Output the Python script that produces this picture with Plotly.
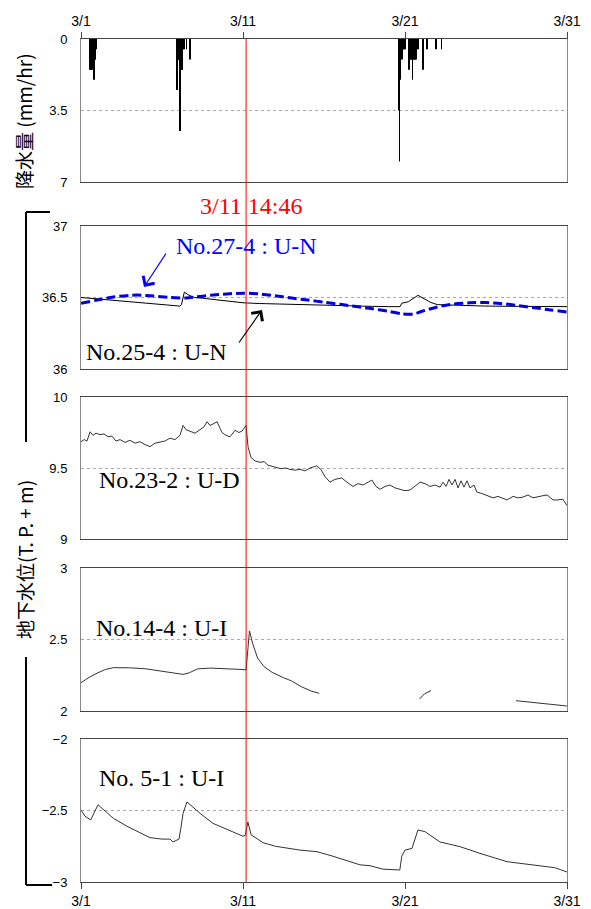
import plotly.graph_objects as go

# ---------------- data ----------------
tick_days = [0, 10, 20, 30]
tick_text = ['3/1', '3/11', '3/21', '3/31']
quake_day = 10.19  # 3/11 14:46 as drawn

# hourly rainfall (mm/hr), day offset from 3/1 00:00
rain_day = [0.5625, 0.604, 0.646, 0.6875, 0.729, 0.771, 0.8125, 0.854, 0.896, 0.9375,
            5.9375, 5.979, 6.021, 6.0625, 6.104, 6.146, 6.1875, 6.229, 6.271, 6.3125, 6.354, 6.521, 6.729,
            19.625, 19.667, 19.708, 19.75, 19.79, 19.833, 19.875, 19.917, 19.958, 20.0,
            20.25, 20.333, 20.375, 20.417, 20.458, 20.5, 20.542, 20.583, 20.625, 20.667,
            20.75, 20.833, 21.125, 21.375, 21.917, 22.25]
rain_mm = [1.5, 1.5, 1.5, 1.5, 1.0, 1.0, 2.0, 1.0, 1.0, 0.5,
           2.5, 1.0, 1.0, 1.0, 4.5, 1.5, 1.5, 1.5, 1.5, 0.5, 0.5, 0.5, 1.0,
           3.5, 6.0, 2.0, 0.5, 0.5, 1.0, 0.5, 0.5, 0.5, 0.5,
           1.5, 1.0, 1.0, 1.0, 2.0, 1.0, 1.0, 1.0, 1.0, 1.0,
           0.5, 0.5, 1.5, 0.5, 0.5, 0.5]

# No.27-4 : U-N
w274_day = [0, 1, 2, 3, 3.5, 4.5, 5.5, 6.5, 7, 8, 9, 10, 11, 12, 13, 14, 15, 16, 17, 18, 19,
            19.8, 20.5, 21, 22, 23, 24, 25, 26, 27, 28, 29, 30]
w274_val = [36.46, 36.482, 36.503, 36.515, 36.517, 36.510, 36.500, 36.497, 36.503, 36.515,
            36.525, 36.530, 36.525, 36.512, 36.496, 36.482, 36.467, 36.452, 36.437, 36.421,
            36.403, 36.386, 36.384, 36.402, 36.434, 36.455, 36.463, 36.465, 36.457, 36.443,
            36.428, 36.413, 36.398]

# No.25-4 : U-N
w254_day = [0, 1, 2, 3, 4, 5, 6.1, 6.2, 6.38, 6.6, 7.0, 7.5, 8, 9, 10, 11, 12, 13, 14, 15, 16,
            17, 18, 19, 19.7, 19.8, 20.2, 20.8, 21.2, 21.6, 22, 23, 25, 27, 30]
w254_val = [36.50, 36.49, 36.48, 36.472, 36.463, 36.452, 36.44, 36.45, 36.538, 36.52, 36.50,
            36.495, 36.488, 36.477, 36.463, 36.458, 36.455, 36.452, 36.445, 36.442, 36.44,
            36.44, 36.438, 36.436, 36.436, 36.46, 36.47, 36.515, 36.49, 36.465, 36.45, 36.445,
            36.44, 36.438, 36.436]

# No.23-2 : U-D
w232_day = [0, 0.2, 0.37, 0.56, 0.74, 0.93, 1.17, 1.42, 1.67, 1.91, 2.16, 2.41, 2.72, 3.02,
            3.33, 3.64, 3.95, 4.26, 4.57, 4.88, 5.19, 5.49, 5.80, 6.11, 6.30, 6.48, 6.73,
            7.04, 7.35, 7.59, 7.78, 7.96, 8.15, 8.40, 8.58, 8.70, 8.95, 9.20, 9.51, 9.75,
            9.94, 10.19, 10.31, 10.49, 10.74, 11.05, 11.30, 11.54, 11.85, 12.10, 12.35,
            12.65, 12.90, 13.21, 13.52, 13.83, 14.14, 14.55, 14.81, 15.06, 15.37, 15.68,
            16.09, 16.42, 16.79, 17.10, 17.41, 17.72, 17.96, 18.21, 18.46, 18.77, 19.07,
            19.38, 19.69, 20.0, 20.31, 20.62, 20.93, 21.23, 21.54, 21.85, 22.16, 22.35,
            22.53, 22.72, 22.90, 23.09, 23.27, 23.46, 23.64, 23.83, 24.01, 24.26, 24.44,
            24.75, 25.06, 25.43, 25.74, 26.05, 26.30, 26.67, 26.98, 27.28, 27.59, 27.90,
            28.21, 28.52, 28.77, 28.95, 29.14, 29.44, 29.75, 30.0]
w232_val = [9.685, 9.70, 9.69, 9.755, 9.73, 9.745, 9.735, 9.74, 9.72, 9.725, 9.69, 9.70,
            9.68, 9.695, 9.675, 9.685, 9.665, 9.65, 9.675, 9.68, 9.69, 9.71, 9.70, 9.73,
            9.80, 9.77, 9.76, 9.745, 9.77, 9.79, 9.826, 9.80, 9.81, 9.826, 9.78, 9.75,
            9.73, 9.72, 9.765, 9.75, 9.76, 9.80, 9.65, 9.575, 9.55, 9.54, 9.545, 9.52,
            9.51, 9.505, 9.495, 9.50, 9.49, 9.485, 9.49, 9.48, 9.50, 9.515, 9.49, 9.44,
            9.40, 9.42, 9.43, 9.40, 9.37, 9.39, 9.38, 9.40, 9.415, 9.37, 9.35, 9.37, 9.38,
            9.36, 9.35, 9.34, 9.345, 9.37, 9.40, 9.39, 9.37, 9.38, 9.365, 9.40, 9.37, 9.42,
            9.38, 9.42, 9.36, 9.41, 9.365, 9.41, 9.36, 9.38, 9.33, 9.32, 9.305, 9.29, 9.30,
            9.285, 9.275, 9.30, 9.29, 9.295, 9.31, 9.29, 9.295, 9.305, 9.31, 9.29, 9.275,
            9.275, 9.28, 9.235]

# No.14-4 : U-I (gaps = missing data)
w144_day = [0, 0.5, 1.0, 1.5, 2.0, 2.5, 3.0, 4.0, 5.0, 6.0, 6.3, 6.7, 7.2, 8.0, 9.0, 10.0,
            10.19, 10.25, 10.4, 10.6, 10.9, 11.3, 11.8, 12.5, 13.0, 13.6, 14.2, 14.7, None,
            20.9, 21.2, 21.6, None, 26.85, 28.0, 29.0, 30.0]
w144_val = [2.198, 2.235, 2.265, 2.29, 2.303, 2.305, 2.302, 2.295, 2.28, 2.265, 2.256, 2.268,
            2.295, 2.30, 2.297, 2.29, 2.287, 2.38, 2.56, 2.47, 2.37, 2.31, 2.27, 2.233, 2.21,
            2.17, 2.14, 2.124, None, 2.084, 2.12, 2.142, None, 2.072, 2.058, 2.045, 2.035]

# No. 5-1 : U-I
w51_day = [0, 0.25, 0.6, 0.85, 1.05, 1.23, 2.0, 2.84, 3.5, 4.26, 5.0, 5.5, 5.68, 6.05, 6.17,
           6.3, 6.54, 6.73, 7.35, 8.15, 9.0, 10.0, 10.15, 10.3, 10.5, 11.24, 12.0, 13.52,
           14.57, 15.56, 17.22, 17.84, 18.64, 19.68, 19.8, 20.0, 20.43, 20.8, 21.23, 22.16,
           23.4, 24.63, 26.3, 27.7, 29.25, 30.0]
w51_val = [-2.497, -2.54, -2.566, -2.51, -2.46, -2.478, -2.555, -2.61, -2.645, -2.69, -2.70,
           -2.70, -2.72, -2.70, -2.62, -2.52, -2.44, -2.46, -2.52, -2.59, -2.63, -2.68, -2.672,
           -2.58, -2.67, -2.725, -2.75, -2.777, -2.788, -2.82, -2.88, -2.886, -2.91, -2.916,
           -2.82, -2.777, -2.765, -2.636, -2.648, -2.72, -2.753, -2.80, -2.858, -2.88, -2.90,
           -2.93]

# ---------------- layout helpers ----------------
# page has an 8px body margin; plot area wanted at page px x 81..567, y 39..882
OFF = 8
W, H = 583, 900
PL, PR, PT, PB = 81, 567, 39, 882
ML, MT = PL - OFF, PT - OFF
MR, MB = W - (PR - OFF), H - (PB - OFF)
PW, PH = PR - PL, PB - PT


def px(xp, yp):
    return (xp - PL) / PW, (PB - yp) / PH


def ydom(top_px, bot_px):
    return [(PB - bot_px) / PH, (PB - top_px) / PH]


fig = go.Figure()
fig.add_trace(go.Bar(x=rain_day, y=rain_mm, width=1 / 24,
                     marker=dict(color='black', line=dict(width=0)),
                     xaxis='x', yaxis='y'))
fig.add_trace(go.Scatter(x=w254_day, y=w254_val, mode='lines',
                         line=dict(color='black', width=1), xaxis='x2', yaxis='y2'))
fig.add_trace(go.Scatter(x=w274_day, y=w274_val, mode='lines',
                         line=dict(color='#0000e0', width=3, dash='9px,4px', shape='spline', smoothing=0.8),
                         xaxis='x2', yaxis='y2'))
fig.add_trace(go.Scatter(x=w232_day, y=w232_val, mode='lines',
                         line=dict(color='#333333', width=1), xaxis='x3', yaxis='y3'))
fig.add_trace(go.Scatter(x=w144_day, y=w144_val, mode='lines', connectgaps=False,
                         line=dict(color='#333333', width=1), xaxis='x4', yaxis='y4'))
fig.add_trace(go.Scatter(x=w51_day, y=w51_val, mode='lines',
                         line=dict(color='#333333', width=1), xaxis='x5', yaxis='y5'))

xbase = dict(range=[0, 30], showline=True, mirror=True, linecolor='#444444', linewidth=1,
             showgrid=False, zeroline=False, tickvals=tick_days, ticktext=tick_text,
             tickfont=dict(family='Liberation Sans, Arial', size=14, color='black'))
ybase = dict(showline=True, mirror=True, linecolor='#888888', linewidth=1,
             showgrid=True, gridcolor='#aaaaaa', griddash='dot', gridwidth=1,
             zeroline=False, ticks='', ticklabelstandoff=10,
             tickfont=dict(family='Liberation Sans, Arial', size=13, color='black'))

doms = [ydom(39, 182), ydom(226, 369), ydom(397, 539), ydom(568, 711), ydom(739, 882)]
yranges = [[7, 0], [36, 37], [9, 10], [2, 3], [-3, -2]]
yticks = [[0, 3.5, 7], [36, 36.5, 37], [9, 9.5, 10], [2, 2.5, 3], [-3, -2.5, -2]]

layout = dict(width=W, height=H, margin=dict(l=ML, r=MR, t=MT, b=MB, pad=0),
              plot_bgcolor='white', paper_bgcolor='white', showlegend=False,
              template='none')
for i in range(5):
    n = '' if i == 0 else str(i + 1)
    xa = dict(xbase, anchor='y' + n)
    if i == 0:
        xa.update(side='top', ticks='outside', ticklen=6, tickcolor='#444444')
    elif i == 4:
        xa.update(ticks='outside', ticklen=6, tickcolor='#444444')
    else:
        xa.update(showticklabels=False, ticks='')
    if i > 0:
        xa['matches'] = 'x'
    layout['xaxis' + n] = xa
    layout['yaxis' + n] = dict(ybase, domain=doms[i], range=yranges[i], tickvals=yticks[i],
                               anchor='x' + n)
fig.update_layout(**layout)

serif = 'Liberation Serif, Times New Roman, serif'
cjk = 'Noto Sans CJK JP'
ann = []


def label(text, xp, yp, color='black', size=24):
    x, y = px(xp, yp)
    ann.append(dict(text=text, x=x, y=y, xref='paper', yref='paper', xanchor='left',
                    yanchor='middle', showarrow=False,
                    font=dict(family=serif, size=size, color=color)))


label('3/11 14:46', 198, 206, color='red')
label('No.27-4 : U-N', 174, 246, color='#0000ff')
label('No.25-4 : U-N', 84, 352)
label('No.23-2 : U-D', 97, 480)
label('No.14-4 : U-I', 94, 628)
label('No. 5-1 : U-I', 97, 778)


def arrow(tail, head, color):
    x, y = px(*head)
    ann.append(dict(text='', x=x, y=y, xref='paper', yref='paper', showarrow=True,
                    ax=tail[0] - head[0], ay=tail[1] - head[1], arrowhead=4,
                    arrowsize=2.2, arrowwidth=1.2, arrowcolor=color))


arrow((167, 252), (144, 287), '#0000ff')
arrow((238, 344), (262, 310), 'black')

for text, xp, yp in [('降水量 (mm/hr)', 23, 121), ('地下水位(T. P. + m)', 24, 560)]:
    x, y = px(xp, yp)
    ann.append(dict(text=text, x=x, y=y, xref='paper', yref='paper', xanchor='center',
                    yanchor='middle', textangle=-90, showarrow=False,
                    font=dict(family=cjk, size=19, color='black')))

fig.update_layout(annotations=ann)

shapes = [dict(type='line', xref='x', yref='paper', x0=quake_day, x1=quake_day, y0=0, y1=1,
               line=dict(color='red', width=1), layer='above')]
for (x0p, y0p, x1p, y1p) in [(26, 212, 50, 212), (26, 212, 26, 442), (26, 657, 26, 885),
                             (26, 885, 52, 885)]:
    a = px(x0p, y0p)
    b = px(x1p, y1p)
    shapes.append(dict(type='line', xref='paper', yref='paper', x0=a[0], y0=a[1], x1=b[0],
                       y1=b[1], line=dict(color='black', width=2)))
fig.update_layout(shapes=shapes)

fig.write_html('out.html')
